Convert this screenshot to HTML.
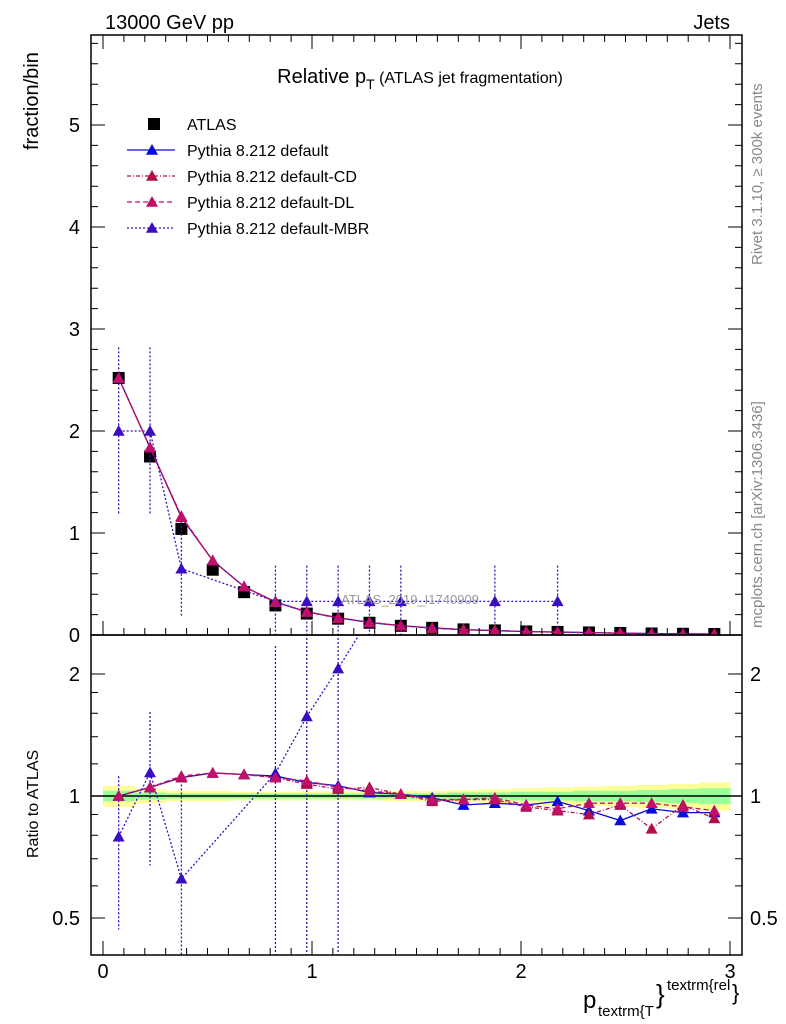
<!DOCTYPE html>
<html><head><meta charset="utf-8"><style>
body{margin:0;background:#fff;overflow:hidden}
svg{display:block;font-family:"Liberation Sans",Arial,sans-serif}
</style></head><body>
<svg id="c" width="786" height="1024" viewBox="0 0 786 1024" xmlns="http://www.w3.org/2000/svg">
<defs>
<clipPath id="cm"><rect x="91" y="35" width="651" height="600"/></clipPath>
<clipPath id="cr"><rect x="91" y="635" width="651" height="320"/></clipPath>
</defs>
<g id="bands" clip-path="url(#cr)"></g>
<g id="main" clip-path="url(#cm)"></g>
<g id="ratio" clip-path="url(#cr)"></g>
<g id="axes"></g>
<text x="105" y="29" font-size="20">13000 GeV pp</text>
<text x="730" y="29" font-size="20" text-anchor="end">Jets</text>
<text x="420" y="83" font-size="20" text-anchor="middle">Relative p<tspan font-size="14" dy="6">T</tspan><tspan font-size="16" dy="-6"> (ATLAS jet fragmentation)</tspan></text>
<text x="410" y="604" font-size="13" fill="#999" text-anchor="middle">ATLAS_2019_I1740909</text>
<text transform="translate(38,150) rotate(-90)" font-size="20">fraction/bin</text>
<text transform="translate(38,858) rotate(-90)" font-size="16">Ratio to ATLAS</text>
<text transform="translate(762,265) rotate(-90)" font-size="15" fill="#888">Rivet 3.1.10, ≥ 300k events</text>
<text transform="translate(762,628) rotate(-90)" font-size="15" fill="#888">mcplots.cern.ch [arXiv:1306.3436]</text>
<g>
<text x="583" y="1008" font-size="24">p</text>
<text x="598" y="1016" font-size="15">textrm{T</text>
<text x="656" y="1003" font-size="26">}</text>
<text x="667" y="990" font-size="15">textrm{rel</text>
<text x="732" y="1000" font-size="22">}</text>
</g>
<g id="legend"></g>
<script>
const ns="http://www.w3.org/2000/svg";
const centers=[0.075,0.225,0.375,0.525,0.675,0.825,0.975,1.125,1.275,1.425,1.575,1.725,1.875,2.025,2.175,2.325,2.475,2.625,2.775,2.925];
const atlas=[2.52,1.75,1.04,0.64,0.42,0.29,0.21,0.16,0.12,0.09,0.07,0.055,0.045,0.035,0.03,0.025,0.02,0.015,0.012,0.01];
const rDefault=[1.0,1.05,1.11,1.14,1.13,1.12,1.08,1.06,1.02,1.01,0.99,0.95,0.96,0.95,0.97,0.92,0.87,0.93,0.91,0.91];
const rCD=[1.0,1.05,1.11,1.14,1.13,1.11,1.07,1.04,1.05,1.01,0.97,0.98,0.98,0.94,0.92,0.90,0.95,0.83,0.95,0.88];
const rDL=[1.0,1.05,1.12,1.14,1.13,1.11,1.09,1.05,1.03,1.01,0.98,0.98,0.99,0.95,0.93,0.96,0.96,0.96,0.94,0.92];
const mbr=[2.0,2.0,0.65,null,null,0.33,0.33,0.33,0.33,0.33,null,null,0.33,null,0.33,null,null,null,null,null];
const mbrErr=[0.82,0.82,0.46,0,0,0.35,0.35,0.35,0.35,0.35,0,0,0.35,0,0.35,0,0,0,0,0];
const bandY=[0.06,0.04,0.03,0.03,0.025,0.025,0.025,0.025,0.025,0.03,0.03,0.035,0.04,0.045,0.05,0.055,0.06,0.065,0.07,0.08];
const bandG=[0.03,0.02,0.015,0.015,0.015,0.015,0.015,0.015,0.015,0.015,0.015,0.02,0.02,0.025,0.025,0.03,0.03,0.035,0.04,0.045];
const mainTicks=[0,1,2,3,4,5];
const ratioTicks=[0.5,1,2];
const xTicks=[0,1,2,3];
const X=v=>103+209*v;
const Y=v=>635-102*v;
const R=v=>796-122*Math.log2(v);
const clampR=y=>Math.max(630,Math.min(958,y));
function el(t,a,p){const e=document.createElementNS(ns,t);for(const k in a)if(a[k]!=null)e.setAttribute(k,a[k]);p.appendChild(e);return e;}
const gM=document.getElementById('main'),gR=document.getElementById('ratio'),gB=document.getElementById('bands'),gA=document.getElementById('axes'),gL=document.getElementById('legend');
centers.forEach((c,i)=>{
 let r=el('rect',{x:X(c-0.075),y:R(1+bandY[i]),width:209*0.15+0.5,height:R(1-bandY[i])-R(1+bandY[i]),fill:'#ffff99'},gB);
 
 
 let g=el('rect',{x:X(c-0.075),y:R(1+bandG[i]),width:209*0.15+0.5,height:R(1-bandG[i])-R(1+bandG[i]),fill:'#99ff99'},gB);
 
 
});
let one=el('line',{x1:91,x2:742,y1:R(1),y2:R(1),stroke:'#000','stroke-width':1.5},gB);


function tri(g,x,y,col,name){const s=6;let p=el('polygon',{points:`${x},${y-s} ${x-s},${y+s*0.8} ${x+s},${y+s*0.8}`,fill:col},g);
 
 }
function series(g,xs,ys,col,dash,name,w){
 const pts=[];xs.forEach((x,i)=>{if(ys[i]!=null)pts.push(X(x)+','+ys[i]);});
 let l=el('polyline',{points:pts.join(' '),fill:'none',stroke:col,'stroke-width':w||1.3,'stroke-dasharray':dash},g);
 
 
 xs.forEach((x,i)=>{if(ys[i]!=null&&ys[i]>20)tri(g,X(x),ys[i],col,name+'-point');});
}
atlas.forEach((v,i)=>{let r=el('rect',{x:X(centers[i])-6,y:Y(v)-6,width:12,height:12,fill:'#000'},gM);
 
 });
mbr.forEach((v,i)=>{if(v==null)return;const c=centers[i];
 let e=el('path',{d:`M${X(c)},${Y(v+mbrErr[i])}V${Y(Math.max(0,v-mbrErr[i]))}`,stroke:'#3a0dc0','stroke-width':1.3,'stroke-dasharray':'2,2',fill:'none'},gM);
 
 });
series(gM,centers,mbr.map(v=>v==null?null:Y(v)),'#3a0dc0','2,2','mbr');
series(gM,centers,atlas.map((a,i)=>Y(a*rDefault[i])),'#0a0adc',null,'default');
series(gM,centers,atlas.map((a,i)=>Y(a*rCD[i])),'#b0104a','4,2,1,2','cd');
series(gM,centers,atlas.map((a,i)=>Y(a*rDL[i])),'#c0106a','5,3','dl');
mbr.forEach((v,i)=>{if(v==null)return;const c=centers[i];const rv=v/atlas[i];if(rv>2.5)return;const lo=Math.max(0.01,(v-mbrErr[i])/atlas[i]);
 let e=el('path',{d:`M${X(c)},${clampR(R((v+mbrErr[i])/atlas[i]))}V${clampR(R(lo))}`,stroke:'#3a0dc0','stroke-width':1.3,'stroke-dasharray':'2,2',fill:'none'},gR);
 
 });
series(gR,centers,mbr.map((v,i)=>v==null?null:R(v/atlas[i])),'#3a0dc0','2,2','mbr-ratio');
series(gR,centers,rDefault.map(R),'#0a0adc',null,'default-ratio');
series(gR,centers,rCD.map(R),'#b0104a','4,2,1,2','cd-ratio');
series(gR,centers,rDL.map(R),'#c0106a','5,3','dl-ratio');
[[35,635],[635,955]].forEach(([a,b],k)=>{let f=el('rect',{x:91,y:a,width:651,height:b-a,fill:'none',stroke:'#000','stroke-width':1.5},gA);
 
 });
mainTicks.forEach(t=>{let l=el('path',{d:`M91,${Y(t)}h14M742,${Y(t)}h-14`,stroke:'#000'},gA);
 
 
 let tx=el('text',{x:80,y:Y(t)+7,'font-size':20,'text-anchor':'end'},gA);tx.textContent=t;
 
 });
for(let v=0.2;v<5.9;v+=0.2){if(Math.abs(v-Math.round(v))<0.01)continue;let l=el('path',{d:`M91,${Y(v)}h7M742,${Y(v)}h-7`,stroke:'#000'},gA);
 
 }
ratioTicks.forEach(t=>{let l=el('path',{d:`M91,${R(t)}h14M742,${R(t)}h-14`,stroke:'#000'},gA);
 
 
 let tx=el('text',{x:80,y:R(t)+7,'font-size':20,'text-anchor':'end'},gA);tx.textContent=t;
 
 
 let t2=el('text',{x:750,y:R(t)+7,'font-size':20},gA);t2.textContent=t;
 
 });
[0.6,0.7,0.8,0.9,1.2,1.4,1.6,1.8].forEach(v=>{let l=el('path',{d:`M91,${R(v)}h7M742,${R(v)}h-7`,stroke:'#000'},gA);
 
 });
xTicks.forEach(t=>{let l=el('path',{d:`M${X(t)},955v-14M${X(t)},635v-14M${X(t)},35v14`,stroke:'#000'},gA);
 
 
 let tx=el('text',{x:X(t),y:978,'font-size':20,'text-anchor':'middle'},gA);tx.textContent=t;
 
 });
for(let v=0;v<3.05;v+=0.1){if(Math.abs(v-Math.round(v))<0.01)continue;let l=el('path',{d:`M${X(v)},955v-7M${X(v)},635v-7M${X(v)},35v7`,stroke:'#000'},gA);
 
 }
const legNames=['ATLAS','Pythia 8.212 default','Pythia 8.212 default-CD','Pythia 8.212 default-DL','Pythia 8.212 default-MBR'];
const legCols=['#000','#0a0adc','#b0104a','#c0106a','#3a0dc0'];
const legDash=[null,null,'4,2,1,2','5,3','2,2'];
legNames.forEach((n,i)=>{const y=124+26*i;
 if(i==0){let r=el('rect',{x:148,y:y-6,width:12,height:12,fill:'#000'},gL);
  
  }
 else{let l=el('line',{x1:127,x2:175,y1:y,y2:y,stroke:legCols[i],'stroke-width':1.3,'stroke-dasharray':legDash[i]},gL);
  
  
  tri(gL,152,y,legCols[i],'legend-marker');}
 let t=el('text',{x:187,y:y+6,'font-size':16},gL);t.textContent=n;
 
 });
</script>
</svg>
</body></html>
